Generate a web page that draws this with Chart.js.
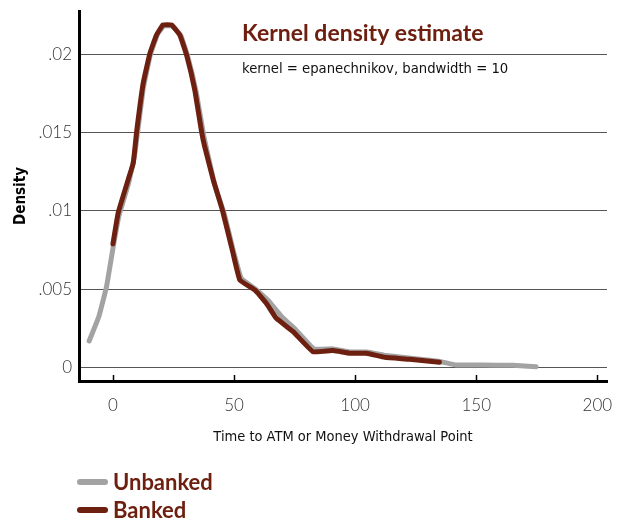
<!DOCTYPE html>
<html>
<head>
<meta charset="utf-8">
<script src="https://cdn.jsdelivr.net/npm/chart.js@4.4.1/dist/chart.umd.min.js"></script>
<style>
  html, body { margin: 0; padding: 0; background: #fff; }
  #wrap { width: 623px; height: 524px; position: relative; }
</style>
</head>
<body>
<div id="wrap"><canvas id="kdeChart"></canvas></div>
<script>
// tick values
var xTicks = [0, 50, 100, 150, 200];
var yTicks = [0, 0.005, 0.01, 0.015, 0.02];

// Unbanked density curve (grey)
var unbankedX = [-9.8, -5.8, -2.6, 0, 2.5, 6.5, 9, 12.5, 15.5, 18.5, 21, 24.5, 28, 31, 34.5, 37.5, 42, 46, 50, 53, 59, 64, 70, 75, 83, 91, 98, 105, 112, 123, 135, 141.7, 152.7, 165, 174.7];
var unbankedY = [0.0017, 0.00326, 0.0052, 0.0076, 0.0097, 0.0118, 0.0136, 0.0178, 0.0200, 0.0213, 0.0218, 0.0218, 0.0212, 0.0198, 0.0175, 0.0148, 0.0117, 0.0098, 0.0073, 0.0057, 0.0050, 0.0043, 0.0032, 0.0025, 0.0012, 0.0012, 0.001, 0.001, 0.0008, 0.0006, 0.0004, 0.00017, 0.00017, 0.00015, 0.00006];

// Banked density curve (dark red)
var bankedX = [0, 2.2, 6.3, 8.4, 9.8, 12.5, 15.3, 18, 20.7, 24.2, 27.6, 30.4, 33.8, 36.6, 37.9, 41.4, 45.2, 49.6, 52.4, 58.6, 63.4, 67.5, 74.4, 82.6, 90.9, 97.7, 104.6, 112.2, 122.5, 134.8];
var bankedY = [0.0079, 0.0099, 0.012, 0.01305, 0.01506, 0.01815, 0.02007, 0.02123, 0.02187, 0.02187, 0.02123, 0.01996, 0.01772, 0.01506, 0.0141, 0.012, 0.01006, 0.0073, 0.0056, 0.00496, 0.0041, 0.00315, 0.0023, 0.00102, 0.00109, 0.00092, 0.00092, 0.00066, 0.00054, 0.00034];

var seriesNames = ["Unbanked", "Banked"];
var titleText = "Kernel density estimate";
var subtitleText = "kernel = epanechnikov, bandwidth = 10";
var xTitle = "Time to ATM or Money Withdrawal Point";
var yTitle = "Density";

var RED = "#6e2010";
var GREY = "#a3a3a3";
var NARROW = "'Liberation Sans Narrow', 'DejaVu Sans Condensed', sans-serif";

function toPoints(xs, ys) {
  return xs.map(function (x, i) { return { x: x, y: ys[i] }; });
}

// title, subtitle, legend and the little inward x ticks
var extras = {
  id: "extras",
  afterDraw: function (chart) {
    var c = chart.ctx;
    var area = chart.chartArea;
    var xs = chart.scales.x;
    c.save();

    c.strokeStyle = "#000";
    c.lineWidth = 1.5;
    xTicks.forEach(function (v) {
      var px = Math.round(xs.getPixelForValue(v)) + 0.5;
      c.beginPath();
      c.moveTo(px, area.bottom);
      c.lineTo(px, area.bottom - 6);
      c.stroke();
    });

    c.textAlign = "left";
    c.textBaseline = "alphabetic";
    c.fillStyle = RED;
    c.font = "bold 23px Lato";
    c.fillText(titleText, 242, 41);
    c.fillStyle = "#111";
    c.font = "14.7px " + NARROW;
    c.fillText(subtitleText, 242, 73);

    // legend
    var rows = [482, 510];
    chart.data.datasets.forEach(function (ds, i) {
      var y = rows[i];
      c.strokeStyle = ds.borderColor;
      c.lineWidth = 6;
      c.lineCap = "round";
      c.beginPath();
      c.moveTo(80, y);
      c.lineTo(105, y);
      c.stroke();
      c.fillStyle = RED;
      c.font = "bold 22px Lato";
      c.textBaseline = "middle";
      c.fillText(ds.label, 113, y + 1);
    });
    c.restore();
  }
};

var ctx = document.getElementById("kdeChart").getContext("2d");
var kdeChart = new Chart(ctx, {
  type: "line",
  data: {
    datasets: [
      {
        label: seriesNames[0],
        data: toPoints(unbankedX, unbankedY),
        borderColor: GREY,
        borderWidth: 5,
        pointRadius: 0,
        tension: 0.1,
        borderCapStyle: "round",
        borderJoinStyle: "round",
        order: 2,
      },
      {
        label: seriesNames[1],
        data: toPoints(bankedX, bankedY),
        borderColor: RED,
        borderWidth: 5,
        pointRadius: 0,
        tension: 0.1,
        borderCapStyle: "round",
        borderJoinStyle: "round",
        order: 1,
      },
    ],
  },
  options: {
    responsive: true,
    maintainAspectRatio: false,
    animation: false,
    layout: { padding: { left: 10, top: 11, right: 16, bottom: 78 } },
    plugins: {
      legend: { display: false },
      tooltip: { enabled: false },
    },
    scales: {
      x: {
        type: "linear",
        min: -14,
        max: 204,
        afterBuildTicks: function (scale) {
          scale.ticks = xTicks.map(function (v) { return { value: v }; });
        },
        afterFit: function (scale) {
          scale.height = 65;
          scale.paddingLeft = 0;
          scale.paddingRight = 0;
        },
        ticks: {
          color: "#333",
          padding: 6,
          maxRotation: 0,
          font: { family: "Lato", size: 17, weight: "300" },
        },
        grid: { display: false },
        border: { display: true, color: "#000", width: 3 },
        title: {
          display: true,
          text: xTitle,
          color: "#111",
          font: { family: NARROW, size: 14.5 },
          padding: { top: 0, bottom: 0 },
        },
      },
      y: {
        min: -0.00085,
        max: 0.02276,
        afterBuildTicks: function (scale) {
          scale.ticks = yTicks.map(function (v) { return { value: v }; });
        },
        afterFit: function (scale) {
          scale.width = 69;
          scale.paddingTop = 0;
          scale.paddingBottom = 0;
        },
        ticks: {
          color: "#333",
          padding: 7,
          font: { family: "Lato", size: 17, weight: "300" },
          callback: function (v) { return v === 0 ? "0" : String(v).replace(/^0/, ""); },
        },
        grid: { color: "#555", lineWidth: 1, drawTicks: false },
        border: { display: true, color: "#000", width: 3 },
        title: {
          display: true,
          text: yTitle,
          color: "#000",
          font: { family: NARROW, size: 15, weight: "bold" },
          padding: { top: 2, bottom: 0 },
        },
      },
    },
  },
  plugins: [extras],
});
</script>
</body>
</html>
